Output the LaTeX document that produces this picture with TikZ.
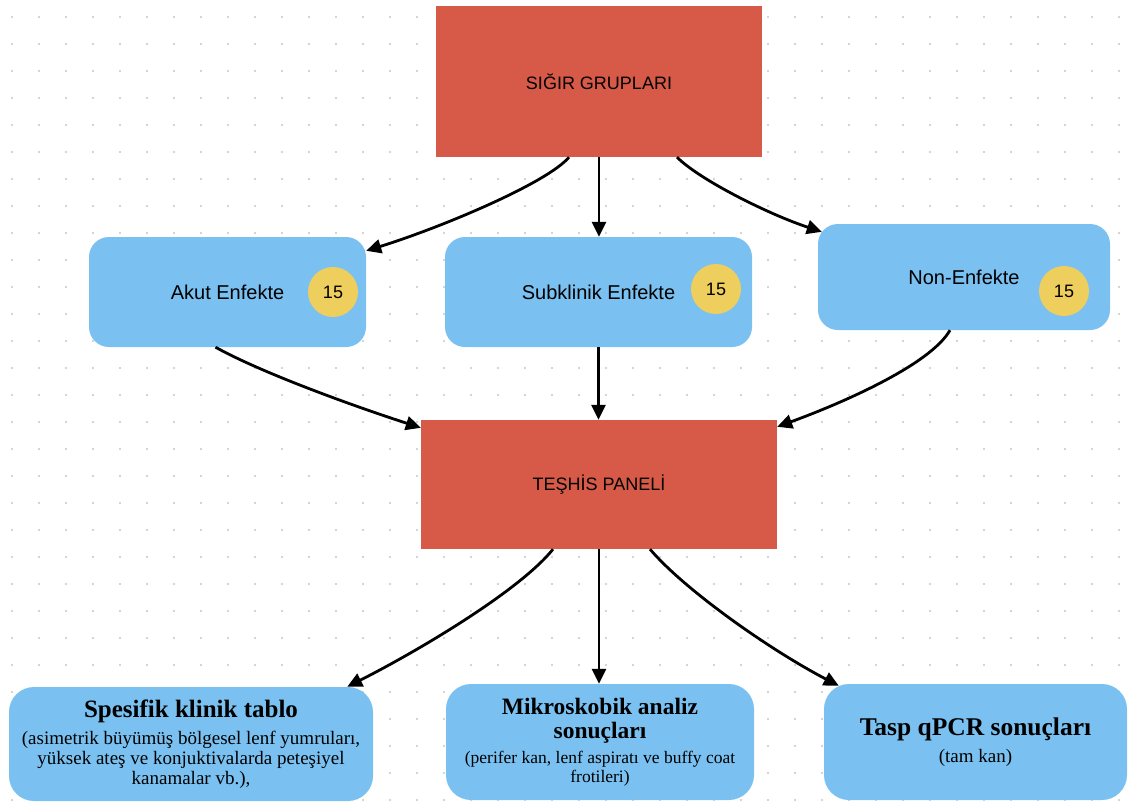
\documentclass[tikz,border=0pt]{standalone}
\usepackage{fontspec}
\setmainfont{Liberation Serif}
\setsansfont{Liberation Sans}
\usepackage{xcolor}
\usepackage{tikz}
\usetikzlibrary{arrows.meta}
\definecolor{kirmizi}{HTML}{D75A48}
\definecolor{mavi}{HTML}{7AC1F1}
\definecolor{sari}{HTML}{EECE5D}

\begin{document}
\begin{tikzpicture}[x=1pt,y=-1pt,
  redbox/.style={fill=kirmizi,font=\sffamily\fontsize{18}{22}\selectfont},
  grpbox/.style={fill=mavi,rounded corners=20pt,font=\sffamily\fontsize{20}{24}\selectfont},
  resbox/.style={fill=mavi,rounded corners=25pt,align=center,font=\fontsize{19}{20}\selectfont},
  cnt/.style={circle,fill=sari,minimum size=50pt,inner sep=0pt,font=\sffamily\fontsize{18}{22}\selectfont},
  arr/.style={-{Triangle[length=15pt,width=14pt]},line width=2.8pt}]
  \useasboundingbox (0,0) rectangle (1128,803);
  \fill[white] (0,0) rectangle (1128,803);
  \foreach \i in {0,...,41}
    \foreach \j in {0,...,29}
      \fill[gray!45] (12+27*\i,17+27*\j) circle (1.2pt);

  \node[redbox,minimum width=326pt,minimum height=151pt] (sig) at (599,81.5) {SIĞIR GRUPLARI};
  \node[grpbox,minimum width=277pt,minimum height=110pt] (akut) at (227.5,292) {Akut Enfekte};
  \node[cnt] (akutn) at (333,292) {15};
  \node[grpbox,minimum width=307pt,minimum height=110pt] (subk) at (598.5,292) {Subklinik Enfekte};
  \node[cnt] (subkn) at (716,289) {15};
  \node[grpbox,minimum width=292pt,minimum height=106pt] (non) at (964,277) {Non-Enfekte};
  \node[cnt] (nonn) at (1064,291) {15};
  \node[redbox,minimum width=356pt,minimum height=129pt] (tes) at (599,484.5) {TEŞHİS PANELİ};

  \node[resbox,minimum width=364pt,minimum height=114pt] (spe) at (191,744)
    {{\fontsize{25}{26}\selectfont\bfseries Spesifik klinik tablo}\\[7.5pt]
     (asimetrik büyümüş bölgesel lenf yumruları,\\
     yüksek ateş ve konjuktivalarda peteşiyel\\
     kanamalar vb.),};
  \node[resbox,minimum width=308pt,minimum height=116pt,font=\fontsize{17.5}{19}\selectfont] (mik) at (600,742)
    {{\fontsize{23.5}{24}\selectfont\bfseries Mikroskobik analiz}\\[5pt]
     {\fontsize{23.5}{24}\selectfont\bfseries sonuçları}\\[5.6pt]
     (perifer kan, lenf aspiratı ve buffy coat\\
     frotileri)};
  \node[resbox,minimum width=303pt,minimum height=116pt] (tasp) at (975.5,742)
    {{\fontsize{25.5}{26}\selectfont\bfseries Tasp qPCR sonuçları}\\[7pt]
     (tam kan)};

  \draw[arr] ([xshift=-30pt]sig.south) .. controls +(-22,26) and +(74,-23) .. ([yshift=-14pt]akut.north east);
  \draw[arr] (sig.south) -- (sig.south |- subk.north);
  \draw[arr] ([xshift=78pt]sig.south) .. controls +(23,23) and +(-52,-17) .. ([xshift=4pt,yshift=-8pt]non.north west);
  \draw[arr] ([xshift=-12pt]akut.south) .. controls +(45,25) and +(-71,-23) .. ([yshift=-8pt]tes.north west);
  \draw[arr] (subk.south) -- (subk.south |- tes.north);
  \draw[arr] ([xshift=-14pt]non.south) .. controls +(-20,35) and +(63,-23) .. ([yshift=-7pt]tes.north east);
  \draw[arr] ([xshift=-46pt]tes.south) .. controls +(-33,41) and +(73,-37) .. ([xshift=-26pt]spe.north east);
  \draw[arr] (tes.south) -- (tes.south |- mik.north);
  \draw[arr] ([xshift=51pt]tes.south) .. controls +(35,41) and +(-69,-36) .. ([xshift=15pt,yshift=-2pt]tasp.north west);
\end{tikzpicture}
\end{document}
